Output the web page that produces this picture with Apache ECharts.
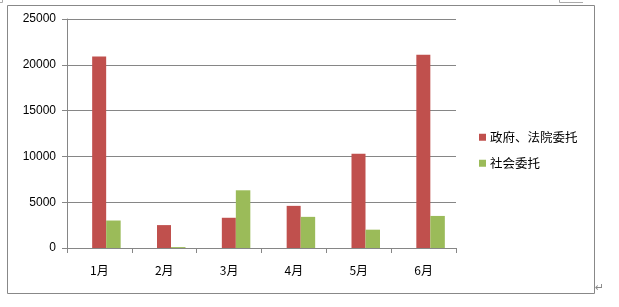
<!DOCTYPE html>
<html>
<head>
<meta charset="utf-8">
<script src="https://cdn.jsdelivr.net/npm/echarts@6/dist/echarts.min.js"></script>
<style>
html,body{margin:0;padding:0;background:#fff;}
#c{width:619px;height:307px;}
</style>
</head>
<body>
<div id="c"></div>
<script>
const categories = ['1月','2月','3月','4月','5月','6月'];
const seriesNames = ['政府、法院委托','社会委托'];
const govValues = [20900, 2500, 3300, 4600, 10300, 21100];
const socialValues = [3000, 100, 6300, 3400, 2000, 3500];
const yTicks = [0, 5000, 10000, 15000, 20000, 25000];

const chart = echarts.init(document.getElementById('c'), null, {renderer:'canvas'});
const gray = '#868686';
chart.setOption({
  animation:false,
  backgroundColor:'#fff',
  textStyle:{fontFamily:'Liberation Sans'},
  grid:{left:67, top:19, width:389, height:229, containLabel:false},
  legend:{
    orient:'vertical', left:474, top:126,
    itemWidth:7, itemHeight:7, itemGap:13.5, icon:'rect',
    textStyle:{fontFamily:'Noto Sans CJK SC', fontSize:12.5, color:'#000', padding:[0,0,0,-1]},
    data:seriesNames
  },
  xAxis:{
    type:'category', data:categories,
    axisLine:{show:true, lineStyle:{color:gray, width:1}},
    axisTick:{show:true, length:5, lineStyle:{color:gray}},
    axisLabel:{margin:16, color:'#000', fontSize:12, fontFamily:'Noto Sans CJK SC'}
  },
  yAxis:{
    type:'value', min:yTicks[0], max:yTicks[yTicks.length-1], interval:yTicks[1]-yTicks[0],
    axisLine:{show:true, lineStyle:{color:gray, width:1}},
    axisTick:{show:true, length:5, lineStyle:{color:gray}},
    axisLabel:{margin:11, color:'#000', fontSize:12, fontFamily:'Liberation Sans', formatter:function(v){return String(v);}},
    splitLine:{show:true, lineStyle:{color:gray, width:1}}
  },
  series:[
    {name:'_spacer', type:'bar', data:[], barWidth:14, barGap:'0%', silent:true},
    {name:seriesNames[0], type:'bar', data:govValues, itemStyle:{color:'#C0504D'}, barWidth:14, barGap:'0%'},
    {name:seriesNames[1], type:'bar', data:socialValues, itemStyle:{color:'#9BBB59'}, barWidth:14.5, barGap:'0%'}
  ],
  graphic:[
    {type:'rect', shape:{x:7.5, y:5.5, width:587, height:288}, style:{fill:'none', stroke:'#888', lineWidth:1}, silent:true},
    {type:'polyline', shape:{points:[[559.5,0],[559.5,2.5],[583,2.5]]}, style:{fill:'none', stroke:'#aaa', lineWidth:1}, silent:true},
    {type:'polyline', shape:{points:[[0,2.5],[2.5,2.5],[2.5,0]]}, style:{fill:'none', stroke:'#aaa', lineWidth:1}, silent:true},
    {type:'text', left:595, top:283, style:{text:'↵', fill:'#888', fontSize:11, fontFamily:'DejaVu Sans'}, silent:true}
  ]
});
</script>
</body>
</html>
